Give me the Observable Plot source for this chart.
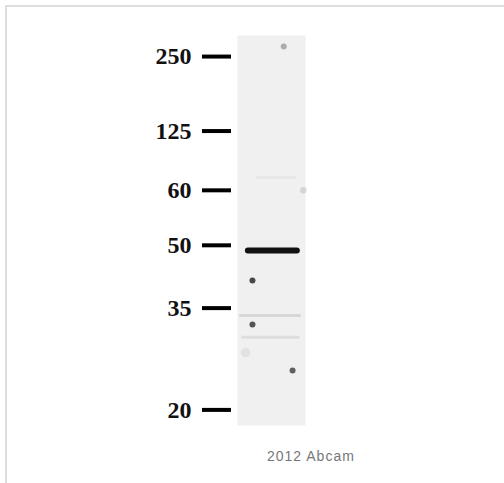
<!DOCTYPE html>
<html><head><meta charset="utf-8">
<script src="https://cdn.jsdelivr.net/npm/d3@7"></script>
<script src="https://cdn.jsdelivr.net/npm/@observablehq/plot@0.6"></script>
<style>
html,body{margin:0;padding:0;background:#fff;width:504px;height:483px;overflow:hidden;position:relative}
#border{position:absolute;left:5px;top:5px;width:600px;height:600px;border-left:2px solid #dedede;border-top:2px solid #dedede;pointer-events:none}
#chart{position:absolute;left:0;top:0}
#caption{position:absolute;left:267px;top:448px;font-family:Arial,"Liberation Sans",sans-serif;font-size:14px;letter-spacing:1px;color:#777}
</style></head><body>
<div id="chart"></div>
<div id="caption">2012 Abcam</div>
<div id="border"></div>
<script>
// Molecular weight ladder (kDa) and relative migration (Rf) along the lane
const ladderKda = [250, 125, 60, 50, 35, 20];
const ladderRf = [0.054, 0.245, 0.397, 0.538, 0.699, 0.960];

// Bands in the sample lane: migration, intensity, thickness, horizontal extent within lane
const bandRf = [0.364, 0.551, 0.718, 0.774];
const bandIntensity = [0.04, 1, 0.11, 0.08];
const bandThick = [3, 6, 3, 3];
const bandFrom = [0.30, 0.16, 0.05, 0.08];
const bandTo = [0.85, 0.88, 0.92, 0.90];

// Small specks / dust on the membrane
const speckX = [0.68, 0.22, 0.22, 0.81, 0.12, 0.97];
const speckRf = [0.028, 0.628, 0.741, 0.859, 0.813, 0.397];
const speckIntensity = [0.3, 0.75, 0.7, 0.65, 0.06, 0.12];
const speckSize = [1, 1, 1, 1, 2.5, 1.2];

const kdaByRf = new Map(ladderRf.map((r, i) => [r, ladderKda[i]]));
const bands = bandRf.map((rf, i) => ({rf, intensity: bandIntensity[i], thick: bandThick[i], from: bandFrom[i], to: bandTo[i]}));
const specks = speckX.map((x, i) => ({x, rf: speckRf[i], intensity: speckIntensity[i], r: speckSize[i]}));

const plot = Plot.plot({
  width: 504,
  height: 440,
  marginTop: 35,
  marginBottom: 15,
  marginLeft: 237,
  marginRight: 199,
  x: {domain: [0, 1], axis: null},
  y: {domain: [0, 1], reverse: true, axis: null},
  style: {background: "transparent"},
  marks: [
    Plot.frame({fill: "#f0f0f0", stroke: "none"}),
    Plot.ruleY(bands, {y: "rf", x1: "from", x2: "to", stroke: "#111", strokeOpacity: "intensity", strokeWidth: "thick", strokeLinecap: "round", ariaLabel: "band"}),
    Plot.dot(specks, {x: "x", y: "rf", r: "r", fill: "#111", fillOpacity: "intensity", stroke: "none", ariaLabel: "speck"}),
    Plot.axisY(ladderRf, {
      anchor: "left",
      tickSize: 29,
      tickPadding: 11,
      dx: -6,
      stroke: "#000",
      strokeWidth: 4,
      fill: "#111",
      fontFamily: "Liberation Serif",
      fontWeight: "bold",
      fontSize: 24,
      tickFormat: d => kdaByRf.get(d),
      label: null
    })
  ]
});
plot.querySelectorAll('g[aria-label="band"]').forEach(g => g.style.filter = "blur(0.8px)");
plot.querySelectorAll('g[aria-label="speck"]').forEach(g => g.style.filter = "blur(0.3px)");
document.getElementById("chart").appendChild(plot);
</script>
</body></html>
